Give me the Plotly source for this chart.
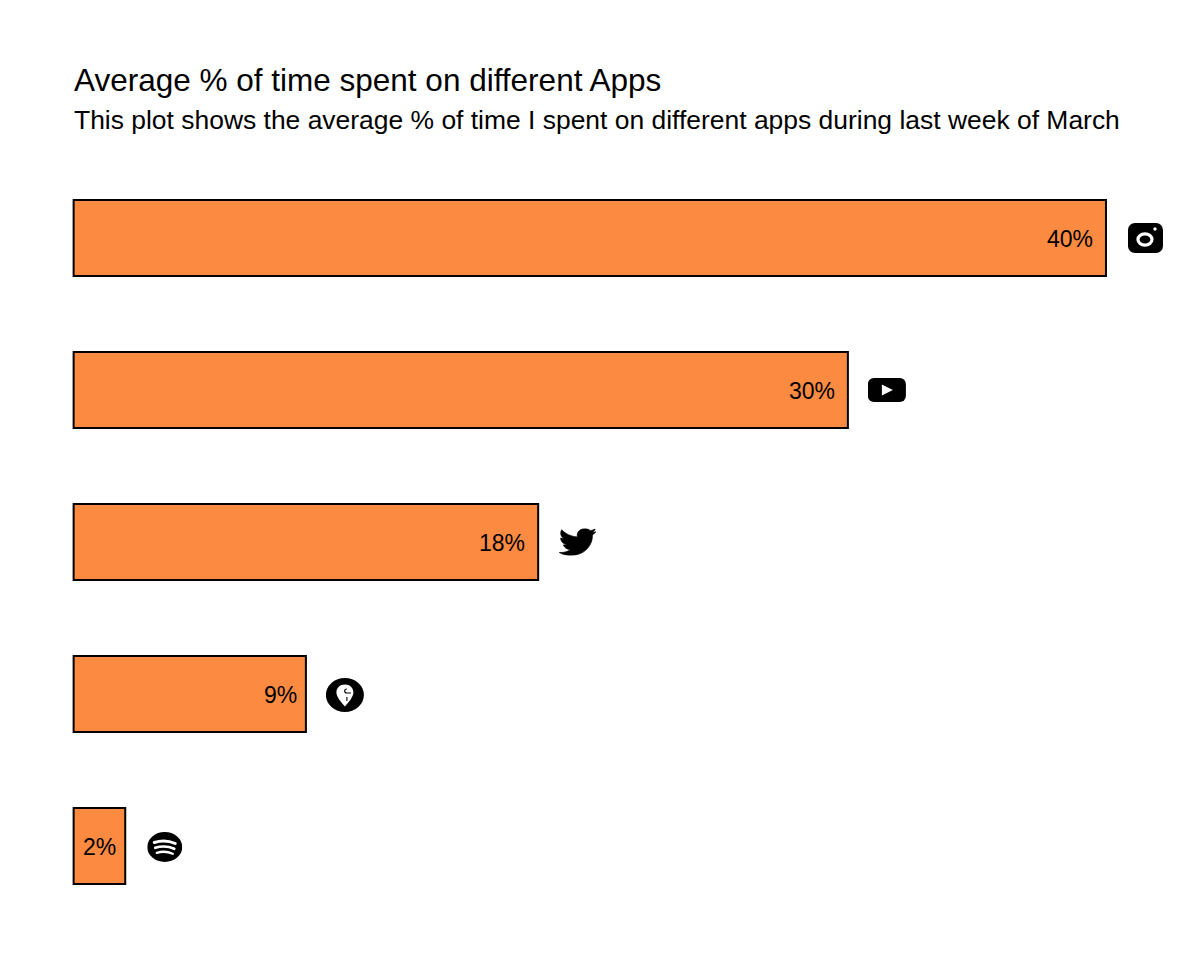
import base64
import plotly.graph_objects as go

# ---- data ----
apps = ["Instagram", "YouTube", "Twitter", "Swiggy", "Spotify"]
percent = [40, 30, 18, 9, 2]
labels = ["40%", "30%", "18%", "9%", "2%"]

TITLE = "Average % of time spent on different Apps"
SUBTITLE = "This plot shows the average % of time I spent on different apps during last week of March"

# ---- layout constants (the page body adds an 8px margin) ----
PAGE = 8
W, H = 1200 - 2 * PAGE, 978 - 2 * PAGE
PX_PER_UNIT = 25.8
X_PAD = 2  # axis units left of zero, so the bars' left border is not clipped
LEFT = 74 - PAGE
ML, MT, MB = LEFT - X_PAD * PX_PER_UNIT, 162 - PAGE, 56 - PAGE
FONT = "Liberation Sans, Arial, sans-serif"

label_shift = [-11, -11, -11, -7, -7]
icon_gap = [22, 20, 21, 20, 22]
icon_size = [(35, 30), (38, 24), (37, 27), (38, 34), (35, 30)]
icon_dy = [0, 0, 0, 1, 1]

TW = ("M459.37 151.716c.325 4.548.325 9.097.325 13.645 0 138.72-105.583 298.558-298.558 298.558"
      "-59.452 0-114.68-17.219-161.137-47.106 8.447.974 16.568 1.299 25.34 1.299 49.055 0 94.213-16.568 "
      "130.274-44.832-46.132-.975-84.792-31.188-98.112-72.772 6.498.974 12.995 1.624 19.818 1.624 "
      "9.421 0 18.843-1.3 27.614-3.573-48.081-9.747-84.143-51.98-84.143-102.985v-1.299c13.969 7.797 "
      "30.214 12.67 47.431 13.319-28.264-18.843-46.781-51.005-46.781-87.391 0-19.492 5.197-37.36 "
      "14.294-52.954 51.655 63.675 129.3 105.258 216.365 109.807-1.624-7.797-2.599-15.918-2.599-24.04 "
      "0-57.828 46.782-104.934 104.934-104.934 30.213 0 57.502 12.67 76.67 33.137 23.715-4.548 "
      "46.456-13.32 66.599-25.34-7.798 24.366-24.366 44.833-44.833 57.178 19.492-2.274 38.36-7.797 "
      "55.579-15.268-13.319 19.492-29.888 36.385-48.081 49.704z")

icons_svg = [
    # Instagram
    '<svg xmlns="http://www.w3.org/2000/svg" viewBox="0 0 35 30" preserveAspectRatio="none">'
    '<rect width="35" height="30" rx="7" fill="#000"/>'
    '<ellipse cx="17" cy="16.5" rx="7" ry="5.6" fill="none" stroke="#fff" stroke-width="3.2"/>'
    '<circle cx="27" cy="6" r="1.7" fill="#fff"/></svg>',
    # YouTube
    '<svg xmlns="http://www.w3.org/2000/svg" viewBox="0 0 38 24" preserveAspectRatio="none">'
    '<rect width="38" height="24" rx="6" fill="#000"/>'
    '<path d="M14 6.5 L25 12 L14 17.5 Z" fill="#fff"/></svg>',
    # Twitter
    '<svg xmlns="http://www.w3.org/2000/svg" viewBox="0 48 512 416" preserveAspectRatio="none">'
    '<path d="' + TW + '" fill="#000" stroke="#000" stroke-width="10"/></svg>',
    # Swiggy
    '<svg xmlns="http://www.w3.org/2000/svg" viewBox="0 0 38 34" preserveAspectRatio="none">'
    '<ellipse cx="19" cy="17" rx="19" ry="17" fill="#000"/>'
    '<path d="M19 6.5 C14 6.5 10.5 10 10.5 14.5 C10.5 19 16 25 19 28.5 C22 25 27.5 19 27.5 14.5 C27.5 10 24 6.5 19 6.5 Z" fill="#fff"/>'
    '<path d="M21 11 C18 11 18 15 21 15 L25 15 M21 19 L21 23" fill="none" stroke="#000" stroke-width="1.1"/></svg>',
    # Spotify
    '<svg xmlns="http://www.w3.org/2000/svg" viewBox="0 0 35 30" preserveAspectRatio="none">'
    '<ellipse cx="17.5" cy="15" rx="17.5" ry="15" fill="#000"/>'
    '<path d="M7 10.5 Q18 7 28 11.5" fill="none" stroke="#fff" stroke-width="3" stroke-linecap="round"/>'
    '<path d="M8 15.8 Q18 12.8 27 16.8" fill="none" stroke="#fff" stroke-width="2.7" stroke-linecap="round"/>'
    '<path d="M9.5 20.8 Q18 18.3 25.5 21.8" fill="none" stroke="#fff" stroke-width="2.3" stroke-linecap="round"/></svg>',
]


def uri(svg):
    return "data:image/svg+xml;base64," + base64.b64encode(svg.encode()).decode()


y_pos = list(range(len(apps)))
y_unit = 152  # pixels per category

fig = go.Figure(
    go.Bar(
        x=percent,
        y=y_pos,
        orientation="h",
        width=0.5,
        marker=dict(color="#FC8A41", line=dict(color="black", width=2)),
        hovertext=apps,
        hoverinfo="text+x",
    )
)

for i, v in enumerate(percent):
    fig.add_annotation(
        x=v, y=i, xref="x", yref="y", text=labels[i], showarrow=False,
        xanchor="right", yanchor="middle", xshift=label_shift[i], yshift=-1,
        font=dict(family=FONT, size=23, color="black"),
    )
    w, h = icon_size[i]
    fig.add_layout_image(
        source=uri(icons_svg[i]), xref="x", yref="y", layer="above",
        x=v + icon_gap[i] / PX_PER_UNIT, y=i + icon_dy[i] / y_unit,
        sizex=w / PX_PER_UNIT, sizey=h / y_unit,
        xanchor="left", yanchor="middle", sizing="stretch",
    )

fig.add_annotation(
    text=SUBTITLE, xref="paper", yref="paper", showarrow=False,
    x=0, y=1, xanchor="left", yanchor="middle",
    xshift=X_PAD * PX_PER_UNIT + 0.5, yshift=MT - (120 - PAGE),
    borderpad=0, borderwidth=0,
    font=dict(family=FONT, size=26.45, color="black"),
)

fig.update_layout(
    width=W, height=H,
    margin=dict(l=ML, r=0, t=MT, b=MB, pad=0),
    paper_bgcolor="white", plot_bgcolor="white",
    showlegend=False,
    font=dict(family=FONT, color="black"),
    title=dict(
        text=TITLE,
        font=dict(family=FONT, size=31.5, color="black"),
        x=LEFT / W, xanchor="left", xref="container",
        y=1 - 61 / H, yanchor="top", yref="container",
    ),
    xaxis=dict(range=[-X_PAD, (W - ML) / PX_PER_UNIT - X_PAD], visible=False, fixedrange=True),
    yaxis=dict(range=[4.5, -0.5], visible=False, fixedrange=True),
)

fig.write_html("out.html", config=dict(displayModeBar=False))
